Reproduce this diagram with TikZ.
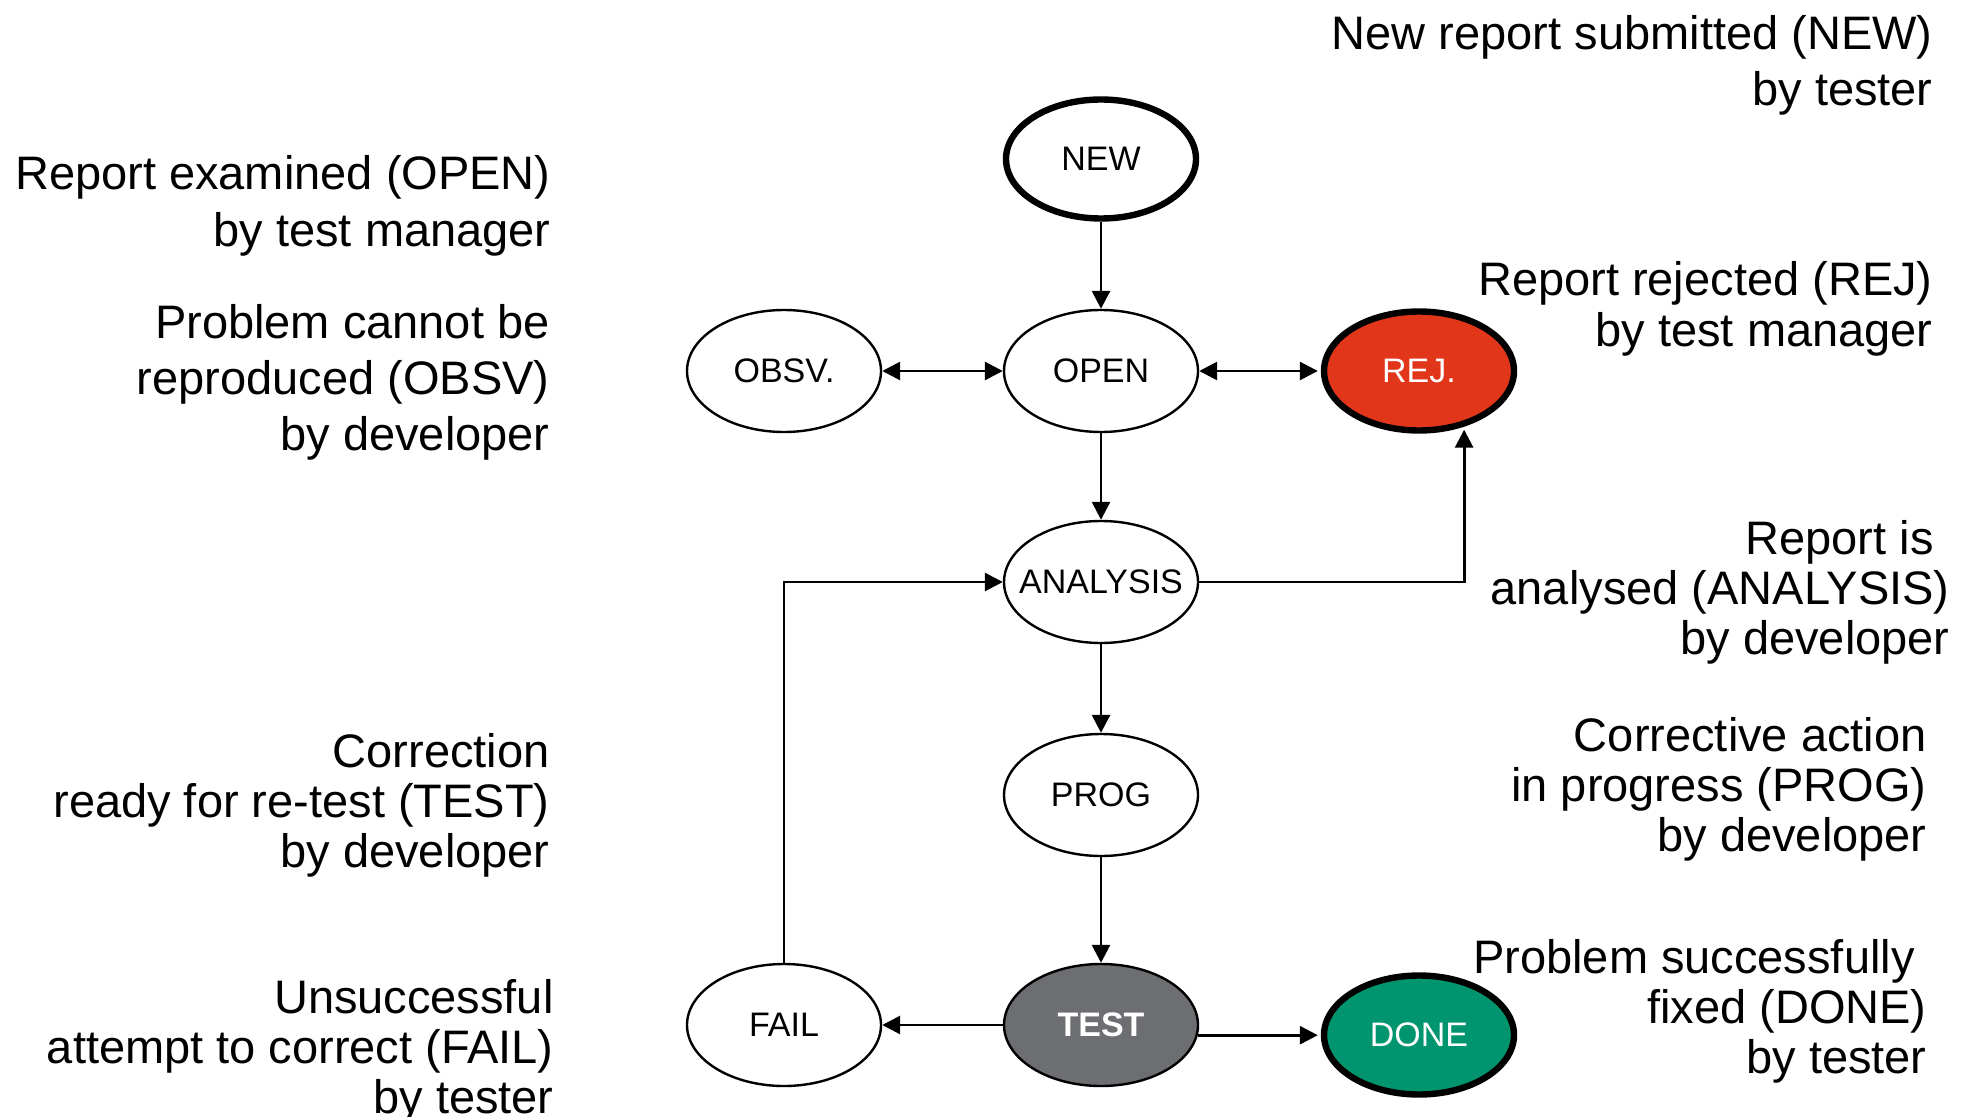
\documentclass[tikz,border=0pt]{standalone}
\usepackage{fontspec}
\setmainfont{Liberation Sans}
\usetikzlibrary{arrows.meta,shapes.geometric}

\definecolor{rejred}{HTML}{E2361A}
\definecolor{donegreen}{HTML}{00956E}
\definecolor{testgray}{HTML}{6D6E71}

\begin{document}
\begin{tikzpicture}[x=0.5pt,y=-0.5pt,
  >={Triangle[length=9pt,width=9pt]},
  state/.style={ellipse, draw, line width=1.2pt, minimum width=97pt,
    minimum height=61pt, inner sep=0pt,
    font=\fontsize{17pt}{20pt}\selectfont},
  keystate/.style={state, line width=3.2pt, minimum width=95pt,
    minimum height=59.5pt},
  flow/.style={line width=1.4pt, ->},
  twoway/.style={line width=1.4pt, <->},
  note/.style={align=right, anchor=base east, inner sep=0pt,
    font=\fontsize{23.5pt}{#1}\selectfont},
  note/.default=25pt
]
\useasboundingbox (0,0) rectangle (1968,1117);

% states of a problem report
\node[keystate] (new) at (1101,159) {NEW};
\node[state] (open) at (1101,371) {OPEN};
\node[state] (obsv) at (784,371) {OBSV.};
\node[keystate, fill=rejred, text=white] (rej) at (1419,371) {REJ.};
\node[state] (ana) at (1101,582) {\makebox[0pt][c]{ANALYSIS}};
\node[state] (prog) at (1101,795) {PROG};
\node[state, fill=testgray, text=white,
  font=\fontsize{17pt}{20pt}\selectfont\bfseries] (test) at (1101,1025) {TEST};
\node[state] (fail) at (784,1025) {FAIL};
\node[keystate, fill=donegreen, text=white] (done) at (1419,1035) {DONE};

% transitions
\draw[flow] (new) -- (open);
\draw[twoway] (obsv) -- (open);
\draw[twoway, shorten >=1.5pt] (open) -- (rej);
\draw[flow] (open) -- (ana);
\draw[flow, shorten >=1.5pt] (ana.east) -| (rej.-51.3);
\draw[flow] (ana) -- (prog);
\draw[flow] (prog) -- (test);
\draw[flow] (test.west) -- (fail.east);
\draw[flow, shorten >=1.5pt] (test.-6) -- (test.-6 -| done.west);
\draw[flow] (fail.north) |- (ana.west);

% who sets each state (placed by the baseline of the last line)
\node[note=28pt] (lnew) at (1933,106) {New report submitted (NEW)\\by tester};
\node[note=28.5pt] (lopen) at (551,247) {Report examined (OPEN)\\by test manager};
\node[note=28pt] (lobsv) at (550,450) {Problem cannot be\\reproduced (OBSV)\\by developer};
\node[note=25.5pt] (lrej) at (1933,347) {Report rejected (REJ)\\by test manager};
\node[note=25pt] (lana) at (1950,654) {Report is\kern8pt\\analysed (ANALYSIS)\\by developer};
\node[note=25pt] (lcorr) at (550,867) {Correction\\ready for re-test (TEST)\\by developer};
\node[note=25pt] (lprog) at (1927,851) {Corrective action\\in progress (PROG)\\by developer};
\node[note=25pt] (ldone) at (1927,1073) {Problem successfully\kern6pt\\fixed (DONE)\\by tester};
\node[note=25pt] (lfail) at (554,1113) {Unsuccessful\\attempt to correct (FAIL)\\by tester};
\end{tikzpicture}
\end{document}
